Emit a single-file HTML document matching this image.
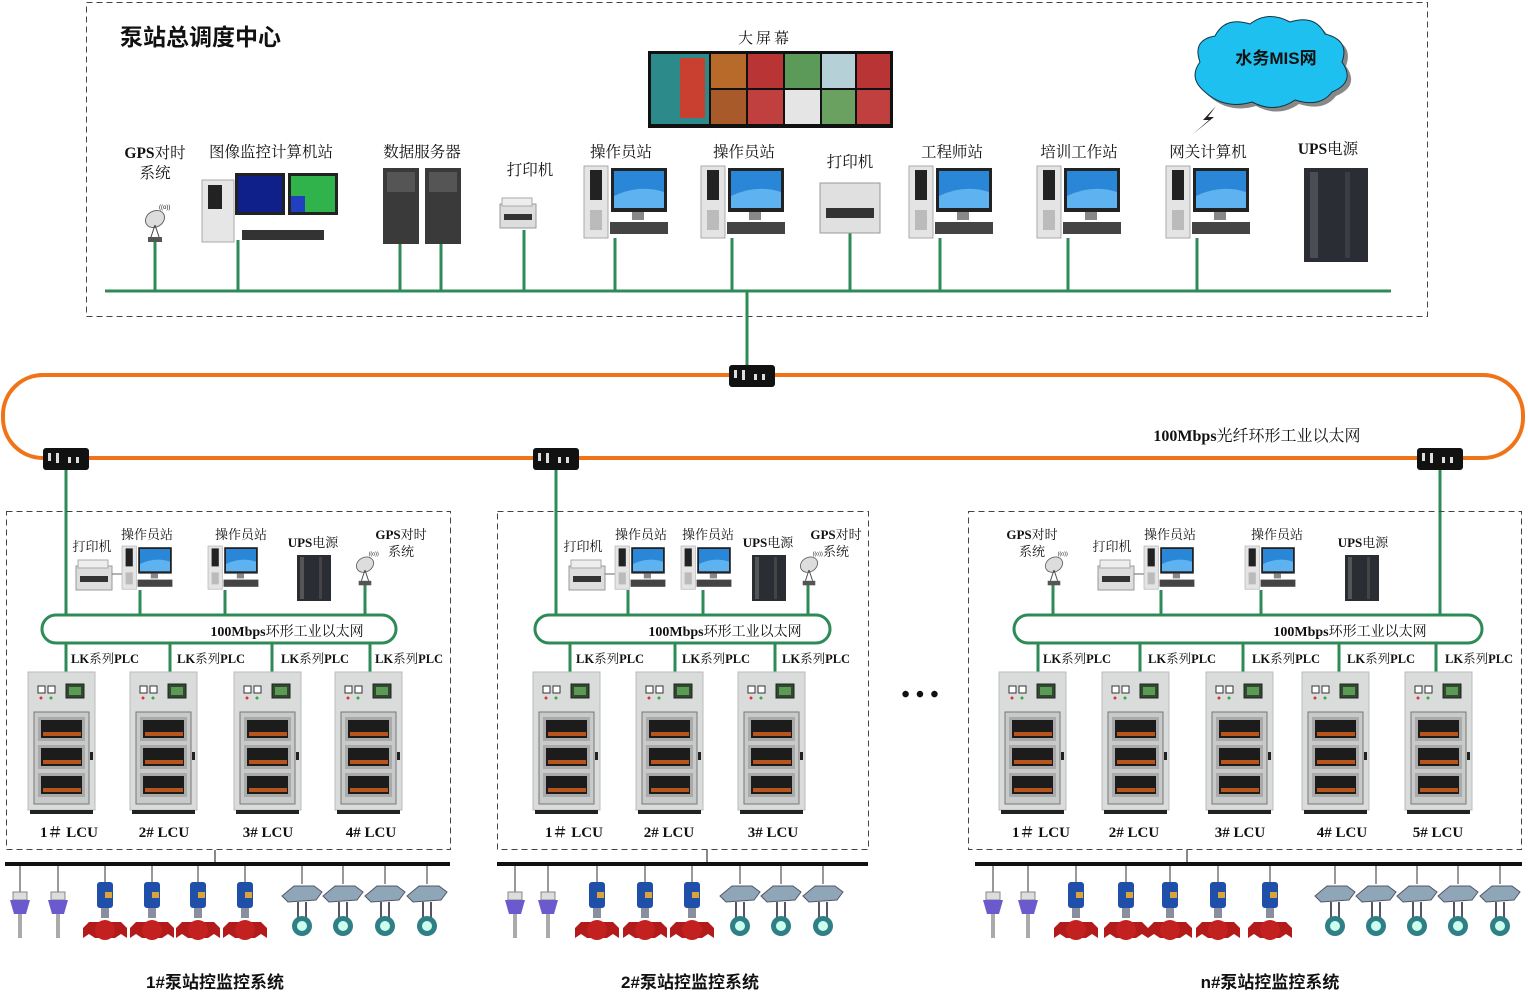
<!DOCTYPE html>
<html><head><meta charset="utf-8"><style>
html,body{margin:0;padding:0;background:#fff;}
svg{display:block;}
text{font-family:"Liberation Serif","Noto Serif CJK SC","Noto Sans CJK SC",serif;fill:#111;}
text.s{font-family:"Liberation Sans","Noto Sans CJK SC",sans-serif;}
.b{font-weight:bold;}
</style></head><body>
<svg width="1528" height="995" viewBox="0 0 1528 995" xmlns="http://www.w3.org/2000/svg">
<defs>
<g id="pc">
 <rect x="0" y="0" width="24" height="72" fill="#e4e4e4" stroke="#aaa"/>
 <rect x="6" y="4" width="12" height="30" fill="#222"/>
 <rect x="6" y="44" width="12" height="20" fill="#bbb"/>
 <rect x="27" y="2" width="56" height="44" fill="#222"/>
 <rect x="30" y="5" width="50" height="37" fill="#2a86d6"/>
 <path d="M30 30 Q55 18 80 26 L80 42 L30 42Z" fill="#5db2ef"/>
 <rect x="48" y="46" width="12" height="8" fill="#888"/>
 <rect x="26" y="56" width="58" height="12" fill="#444"/>
</g>
<g id="printer">
 <rect x="0" y="8" width="36" height="24" fill="#ddd" stroke="#999"/>
 <rect x="2" y="2" width="30" height="8" fill="#eee" stroke="#aaa"/>
 <rect x="4" y="18" width="28" height="6" fill="#333"/>
</g>
<g id="ups">
 <rect x="0" y="0" width="34" height="46" fill="#2a2d33"/>
 <rect x="3" y="2" width="4" height="42" fill="#555"/>
 <rect x="22" y="2" width="3" height="42" fill="#444"/>
</g>
<g id="gps">
 <ellipse cx="10" cy="14" rx="10" ry="8" fill="#ddd" stroke="#666" transform="rotate(-30 10 14)"/>
 <line x1="10" y1="20" x2="6" y2="32" stroke="#444"/>
 <line x1="10" y1="20" x2="14" y2="32" stroke="#444"/>
 <rect x="3" y="32" width="14" height="5" fill="#555"/>
 <text x="14" y="4" font-size="6" class="s">((o))</text>
</g>
<g id="cab">
 <rect x="0" y="0" width="67" height="138" fill="#dadcdc" stroke="#bbb"/>
 <rect x="10" y="14" width="7" height="7" fill="#fff" stroke="#333"/>
 <rect x="20" y="14" width="7" height="7" fill="#fff" stroke="#333"/>
 <circle cx="13" cy="26" r="1.5" fill="#d33"/><circle cx="23" cy="26" r="1.5" fill="#3a3"/>
 <rect x="38" y="12" width="18" height="14" fill="#2f4a2f" stroke="#222"/>
 <rect x="41" y="15" width="12" height="8" fill="#5a9a55"/>
 <rect x="6" y="40" width="55" height="92" fill="#c8caca" stroke="#777"/>
 <rect x="10" y="45" width="47" height="24" fill="#aaa"/><rect x="13" y="48" width="41" height="18" fill="#1c1c1c"/><rect x="15" y="60" width="38" height="4" fill="#b8551f"/>
 <rect x="10" y="73" width="47" height="24" fill="#aaa"/><rect x="13" y="76" width="41" height="18" fill="#1c1c1c"/><rect x="15" y="88" width="38" height="4" fill="#b8551f"/>
 <rect x="10" y="101" width="47" height="24" fill="#aaa"/><rect x="13" y="104" width="41" height="18" fill="#1c1c1c"/><rect x="15" y="116" width="38" height="4" fill="#b8551f"/>
 <rect x="62" y="80" width="3" height="8" fill="#222"/>
 <rect x="2" y="138" width="63" height="4" fill="#222"/>
</g>
<g id="sw">
 <rect x="-23" y="-11" width="46" height="22" rx="3" fill="#111"/>
 <rect x="-18" y="-6" width="3" height="8" fill="#ddd"/><rect x="-10" y="-6" width="3" height="10" fill="#ddd"/><rect x="2" y="-2" width="3" height="6" fill="#ddd"/><rect x="10" y="-2" width="3" height="6" fill="#ddd"/>
</g>
<g id="sensor">
 <line x1="0" y1="0" x2="0" y2="28" stroke="#333"/>
 <rect x="-7" y="26" width="14" height="8" fill="#ddd" stroke="#888"/>
 <path d="M-10 34 L10 34 L6 48 L-6 48Z" fill="#6a5acd"/>
 <rect x="-2" y="48" width="4" height="24" fill="#aaa"/>
</g>
<g id="pump">
 <line x1="0" y1="0" x2="0" y2="16" stroke="#333"/>
 <rect x="-8" y="16" width="16" height="26" rx="3" fill="#1f4fa8"/>
 <rect x="0" y="26" width="7" height="6" fill="#d9a53a"/>
 <rect x="-4" y="42" width="8" height="10" fill="#8a8fa0"/>
 <path d="M-22 62 L-16 56 L16 56 L22 62 L22 72 L16 68 L10 72 L-10 72 L-16 68 L-22 72Z" fill="#b31b1b"/>
 <ellipse cx="0" cy="64" rx="10" ry="10" fill="#c32020"/>
</g>
<g id="valve">
 <line x1="0" y1="0" x2="0" y2="18" stroke="#333"/>
 <path d="M-20 30 L-8 20 L12 20 L20 26 L14 34 L-14 36Z" fill="#8fa6b8" stroke="#556"/>
 <line x1="-4" y1="36" x2="-4" y2="52" stroke="#556" stroke-width="2"/>
 <line x1="4" y1="36" x2="4" y2="52" stroke="#556" stroke-width="2"/>
 <circle cx="0" cy="60" r="10" fill="#2f7f86"/>
 <circle cx="0" cy="60" r="5" fill="#cfe"/>
</g>
</defs>

<rect x="86.5" y="2.5" width="1341" height="314" fill="none" stroke="#444" stroke-dasharray="6,4"/>
<text x="120" y="45" font-size="23" class="b s">泵站总调度中心</text>
<text x="765" y="43" font-size="15" text-anchor="middle" letter-spacing="3">大屏幕</text>
<rect x="648" y="51" width="245" height="77" fill="#111"/>
<rect x="651" y="54" width="58" height="70" fill="#2c8a8a"/>
<rect x="680" y="58" width="25" height="60" fill="#c94030"/>
<rect x="711" y="54" width="35" height="34" fill="#b86a2a"/><rect x="711" y="90" width="35" height="34" fill="#a85a2a"/>
<rect x="748" y="54" width="35" height="34" fill="#b93535"/><rect x="748" y="90" width="35" height="34" fill="#c04040"/>
<rect x="785" y="54" width="35" height="34" fill="#5c9a5a"/><rect x="785" y="90" width="35" height="34" fill="#e5e5e5"/>
<rect x="822" y="54" width="33" height="34" fill="#b6d0d8"/><rect x="822" y="90" width="33" height="34" fill="#6aa060"/>
<rect x="857" y="54" width="33" height="34" fill="#b93535"/><rect x="857" y="90" width="33" height="34" fill="#c04040"/>
<g>
<path d="M1205 92 Q1188 78 1200 62 Q1192 40 1215 36 Q1225 16 1250 24 Q1268 10 1290 22 Q1315 14 1325 34 Q1350 40 1342 62 Q1356 82 1332 92 Q1320 108 1295 100 Q1275 114 1252 102 Q1225 110 1205 92Z" fill="#888" transform="translate(4,4)"/>
<path d="M1205 92 Q1188 78 1200 62 Q1192 40 1215 36 Q1225 16 1250 24 Q1268 10 1290 22 Q1315 14 1325 34 Q1350 40 1342 62 Q1356 82 1332 92 Q1320 108 1295 100 Q1275 114 1252 102 Q1225 110 1205 92Z" fill="#1ec0ef" stroke="#134"/>
<text x="1276" y="64" font-size="17" text-anchor="middle" class="b s" fill="#113">水务MIS网</text>
</g>
<path d="M1216 106 L1203 120 L1209 120 L1193 134 L1214 117 L1208 117 Z" fill="#222"/>

<g font-size="15.5">
<text x="155" y="158" text-anchor="middle"><tspan class="b">GPS</tspan>对时</text>
<text x="155" y="178" text-anchor="middle">系统</text>
<text x="271" y="157" text-anchor="middle">图像监控计算机站</text>
<text x="422" y="157" text-anchor="middle">数据服务器</text>
<text x="530" y="175" text-anchor="middle">打印机</text>
<text x="621" y="157" text-anchor="middle">操作员站</text>
<text x="744" y="157" text-anchor="middle">操作员站</text>
<text x="850" y="167" text-anchor="middle">打印机</text>
<text x="952" y="157" text-anchor="middle">工程师站</text>
<text x="1079" y="157" text-anchor="middle">培训工作站</text>
<text x="1208" y="157" text-anchor="middle">网关计算机</text>
<text x="1328" y="154" text-anchor="middle"><tspan class="b">UPS</tspan>电源</text>
</g>
<g stroke="#2e8b57" stroke-width="3">
<line x1="105" y1="291" x2="1391" y2="291"/>
<line x1="155" y1="240" x2="155" y2="291"/><line x1="238" y1="240" x2="238" y2="291"/>
<line x1="400" y1="240" x2="400" y2="291"/><line x1="441" y1="240" x2="441" y2="291"/>
<line x1="524" y1="230" x2="524" y2="291"/><line x1="615" y1="238" x2="615" y2="291"/>
<line x1="732" y1="238" x2="732" y2="291"/><line x1="850" y1="232" x2="850" y2="291"/>
<line x1="940" y1="238" x2="940" y2="291"/><line x1="1068" y1="238" x2="1068" y2="291"/>
<line x1="1197" y1="238" x2="1197" y2="291"/>
<line x1="747" y1="291" x2="747" y2="376"/>
</g>
<use href="#gps" x="145" y="205"/>
<rect x="202" y="180" width="32" height="62" fill="#e6e6e6" stroke="#aaa"/>
<rect x="208" y="185" width="14" height="24" fill="#222"/>
<rect x="235" y="173" width="50" height="42" fill="#222"/><rect x="238" y="176" width="44" height="36" fill="#10208a"/>
<rect x="288" y="173" width="50" height="42" fill="#222"/><rect x="291" y="176" width="44" height="36" fill="#2fb34a"/><rect x="291" y="196" width="14" height="16" fill="#2040c0"/>
<rect x="242" y="230" width="82" height="10" fill="#333"/>
<rect x="383" y="168" width="36" height="76" fill="#3a3a3a"/><rect x="387" y="172" width="28" height="20" fill="#555"/>
<rect x="425" y="168" width="36" height="76" fill="#3a3a3a"/><rect x="429" y="172" width="28" height="20" fill="#555"/>
<use href="#printer" x="500" y="196"/>
<use href="#pc" x="584" y="166"/>
<use href="#pc" x="701" y="166"/>
<rect x="820" y="183" width="60" height="50" fill="#e0e0e0" stroke="#999"/><rect x="826" y="208" width="48" height="10" fill="#333"/>
<use href="#pc" x="909" y="166"/>
<use href="#pc" x="1037" y="166"/>
<use href="#pc" x="1166" y="166"/>
<rect x="1304" y="168" width="64" height="94" fill="#2a2d33"/><rect x="1310" y="172" width="8" height="86" fill="#4a4d55"/><rect x="1345" y="172" width="5" height="86" fill="#3a3d44"/>

<rect x="3" y="375" width="1520" height="83" rx="40" fill="none" stroke="#f07318" stroke-width="4"/>
<text x="1257" y="441" font-size="16" text-anchor="middle"><tspan class="b">100Mbps</tspan>光纤环形工业以太网</text>

<g stroke="#2e8b57" stroke-width="3" fill="none">
<line x1="66" y1="460" x2="66" y2="615"/>
<line x1="556" y1="460" x2="556" y2="615"/>
<line x1="1440" y1="460" x2="1440" y2="615"/>
<rect x="42" y="615" width="354" height="28" rx="14"/>
<rect x="535" y="615" width="295" height="28" rx="14"/>
<rect x="1014" y="615" width="468" height="28" rx="14"/>
<line x1="140" y1="590" x2="140" y2="615"/><line x1="225" y1="590" x2="225" y2="615"/><line x1="365" y1="585" x2="365" y2="615"/>
<line x1="66" y1="643" x2="66" y2="672"/><line x1="170" y1="643" x2="170" y2="672"/><line x1="272" y1="643" x2="272" y2="672"/><line x1="370" y1="643" x2="370" y2="672"/>
<line x1="628" y1="590" x2="628" y2="615"/><line x1="703" y1="590" x2="703" y2="615"/><line x1="808" y1="585" x2="808" y2="615"/>
<line x1="570" y1="643" x2="570" y2="672"/><line x1="675" y1="643" x2="675" y2="672"/><line x1="775" y1="643" x2="775" y2="672"/>
<line x1="1053" y1="585" x2="1053" y2="615"/><line x1="1161" y1="590" x2="1161" y2="615"/><line x1="1261" y1="590" x2="1261" y2="615"/>
<line x1="1038" y1="643" x2="1038" y2="672"/><line x1="1140" y1="643" x2="1140" y2="672"/><line x1="1243" y1="643" x2="1243" y2="672"/><line x1="1339" y1="643" x2="1339" y2="672"/><line x1="1436" y1="643" x2="1436" y2="672"/>
</g>
<use href="#sw" x="752" y="376"/>
<use href="#sw" x="66" y="459"/>
<use href="#sw" x="556" y="459"/>
<use href="#sw" x="1440" y="459"/>

<g fill="none" stroke="#444" stroke-dasharray="6,4">
<rect x="6.5" y="511.5" width="444" height="338"/>
<rect x="497.5" y="511.5" width="371" height="338"/>
<rect x="968.5" y="511.5" width="553" height="338"/>
</g>

<g font-size="13">
<text x="92" y="551" text-anchor="middle">打印机</text>
<text x="147" y="539" text-anchor="middle">操作员站</text>
<text x="241" y="539" text-anchor="middle">操作员站</text>
<text x="313" y="547" text-anchor="middle"><tspan class="b">UPS</tspan>电源</text>
<text x="401" y="539" text-anchor="middle"><tspan class="b">GPS</tspan>对时</text>
<text x="401" y="556" text-anchor="middle">系统</text>
<text x="583" y="551" text-anchor="middle">打印机</text>
<text x="641" y="539" text-anchor="middle">操作员站</text>
<text x="708" y="539" text-anchor="middle">操作员站</text>
<text x="768" y="547" text-anchor="middle"><tspan class="b">UPS</tspan>电源</text>
<text x="836" y="539" text-anchor="middle"><tspan class="b">GPS</tspan>对时</text>
<text x="836" y="556" text-anchor="middle">系统</text>
<text x="1032" y="539" text-anchor="middle"><tspan class="b">GPS</tspan>对时</text>
<text x="1032" y="556" text-anchor="middle">系统</text>
<text x="1112" y="551" text-anchor="middle">打印机</text>
<text x="1170" y="539" text-anchor="middle">操作员站</text>
<text x="1277" y="539" text-anchor="middle">操作员站</text>
<text x="1363" y="547" text-anchor="middle"><tspan class="b">UPS</tspan>电源</text>
</g>

<use href="#printer" x="76" y="558"/><line x1="112" y1="574" x2="122" y2="574" stroke="#666"/>
<use href="#pc" x="122" y="546" transform="translate(122 546) scale(0.6) translate(-122 -546)"/>
<use href="#pc" x="208" y="546" transform="translate(208 546) scale(0.6) translate(-208 -546)"/>
<use href="#ups" x="297" y="555"/>
<use href="#gps" x="356" y="552" transform="translate(356 552) scale(0.9) translate(-356 -552)"/>

<use href="#printer" x="569" y="558"/><line x1="605" y1="574" x2="615" y2="574" stroke="#666"/>
<use href="#pc" x="615" y="546" transform="translate(615 546) scale(0.6) translate(-615 -546)"/>
<use href="#pc" x="681" y="546" transform="translate(681 546) scale(0.6) translate(-681 -546)"/>
<use href="#ups" x="752" y="555"/>
<use href="#gps" x="800" y="552" transform="translate(800 552) scale(0.9) translate(-800 -552)"/>

<use href="#gps" x="1045" y="552" transform="translate(1045 552) scale(0.9) translate(-1045 -552)"/>
<use href="#printer" x="1098" y="558"/><line x1="1134" y1="574" x2="1144" y2="574" stroke="#666"/>
<use href="#pc" x="1144" y="546" transform="translate(1144 546) scale(0.6) translate(-1144 -546)"/>
<use href="#pc" x="1245" y="546" transform="translate(1245 546) scale(0.6) translate(-1245 -546)"/>
<use href="#ups" x="1345" y="555"/>

<g font-size="14">
<text x="287" y="636" text-anchor="middle"><tspan class="b">100Mbps</tspan>环形工业以太网</text>
<text x="725" y="636" text-anchor="middle"><tspan class="b">100Mbps</tspan>环形工业以太网</text>
<text x="1350" y="636" text-anchor="middle"><tspan class="b">100Mbps</tspan>环形工业以太网</text>
</g>
<g font-size="12.5">
<text x="71" y="663"><tspan class="b">LK</tspan>系列<tspan class="b">PLC</tspan></text>
<text x="177" y="663"><tspan class="b">LK</tspan>系列<tspan class="b">PLC</tspan></text>
<text x="281" y="663"><tspan class="b">LK</tspan>系列<tspan class="b">PLC</tspan></text>
<text x="375" y="663"><tspan class="b">LK</tspan>系列<tspan class="b">PLC</tspan></text>
<text x="576" y="663"><tspan class="b">LK</tspan>系列<tspan class="b">PLC</tspan></text>
<text x="682" y="663"><tspan class="b">LK</tspan>系列<tspan class="b">PLC</tspan></text>
<text x="782" y="663"><tspan class="b">LK</tspan>系列<tspan class="b">PLC</tspan></text>
<text x="1043" y="663"><tspan class="b">LK</tspan>系列<tspan class="b">PLC</tspan></text>
<text x="1148" y="663"><tspan class="b">LK</tspan>系列<tspan class="b">PLC</tspan></text>
<text x="1252" y="663"><tspan class="b">LK</tspan>系列<tspan class="b">PLC</tspan></text>
<text x="1347" y="663"><tspan class="b">LK</tspan>系列<tspan class="b">PLC</tspan></text>
<text x="1445" y="663"><tspan class="b">LK</tspan>系列<tspan class="b">PLC</tspan></text>
</g>

<use href="#cab" x="28" y="672"/><use href="#cab" x="130" y="672"/><use href="#cab" x="234" y="672"/><use href="#cab" x="335" y="672"/>
<use href="#cab" x="533" y="672"/><use href="#cab" x="636" y="672"/><use href="#cab" x="738" y="672"/>
<use href="#cab" x="999" y="672"/><use href="#cab" x="1102" y="672"/><use href="#cab" x="1206" y="672"/><use href="#cab" x="1302" y="672"/><use href="#cab" x="1405" y="672"/>
<g font-size="15" class="b" text-anchor="middle">
<text x="69" y="837">1＃ LCU</text><text x="164" y="837">2# LCU</text><text x="268" y="837">3# LCU</text><text x="371" y="837">4# LCU</text>
<text x="574" y="837">1＃ LCU</text><text x="669" y="837">2# LCU</text><text x="773" y="837">3# LCU</text>
<text x="1041" y="837">1＃ LCU</text><text x="1134" y="837">2# LCU</text><text x="1240" y="837">3# LCU</text><text x="1342" y="837">4# LCU</text><text x="1438" y="837">5# LCU</text>
</g>
<text x="920" y="702" font-size="24" text-anchor="middle" class="b">• • •</text>

<g stroke="#111">
<line x1="5" y1="864" x2="450" y2="864" stroke-width="4"/>
<line x1="497" y1="864" x2="868" y2="864" stroke-width="4"/>
<line x1="975" y1="864" x2="1522" y2="864" stroke-width="4"/>
<line x1="215" y1="850" x2="215" y2="864"/>
<line x1="707" y1="850" x2="707" y2="864"/>
<line x1="1187" y1="850" x2="1187" y2="864"/>
</g>
<g>
<use href="#sensor" x="20" y="866"/><use href="#sensor" x="58" y="866"/>
<use href="#pump" x="105" y="866"/><use href="#pump" x="152" y="866"/><use href="#pump" x="198" y="866"/><use href="#pump" x="245" y="866"/>
<use href="#valve" x="302" y="866"/><use href="#valve" x="343" y="866"/><use href="#valve" x="385" y="866"/><use href="#valve" x="427" y="866"/>
<use href="#sensor" x="515" y="866"/><use href="#sensor" x="548" y="866"/>
<use href="#pump" x="597" y="866"/><use href="#pump" x="645" y="866"/><use href="#pump" x="692" y="866"/>
<use href="#valve" x="740" y="866"/><use href="#valve" x="781" y="866"/><use href="#valve" x="823" y="866"/>
<use href="#sensor" x="993" y="866"/><use href="#sensor" x="1028" y="866"/>
<use href="#pump" x="1076" y="866"/><use href="#pump" x="1126" y="866"/><use href="#pump" x="1170" y="866"/><use href="#pump" x="1218" y="866"/><use href="#pump" x="1270" y="866"/>
<use href="#valve" x="1335" y="866"/><use href="#valve" x="1376" y="866"/><use href="#valve" x="1417" y="866"/><use href="#valve" x="1458" y="866"/><use href="#valve" x="1500" y="866"/>
</g>
<g font-size="17" text-anchor="middle">
<text x="215" y="988" class="b s">1#泵站控监控系统</text>
<text x="690" y="988" class="b s">2#泵站控监控系统</text>
<text x="1270" y="988" class="b s">n#泵站控监控系统</text>
</g>
</svg>
</body></html>
